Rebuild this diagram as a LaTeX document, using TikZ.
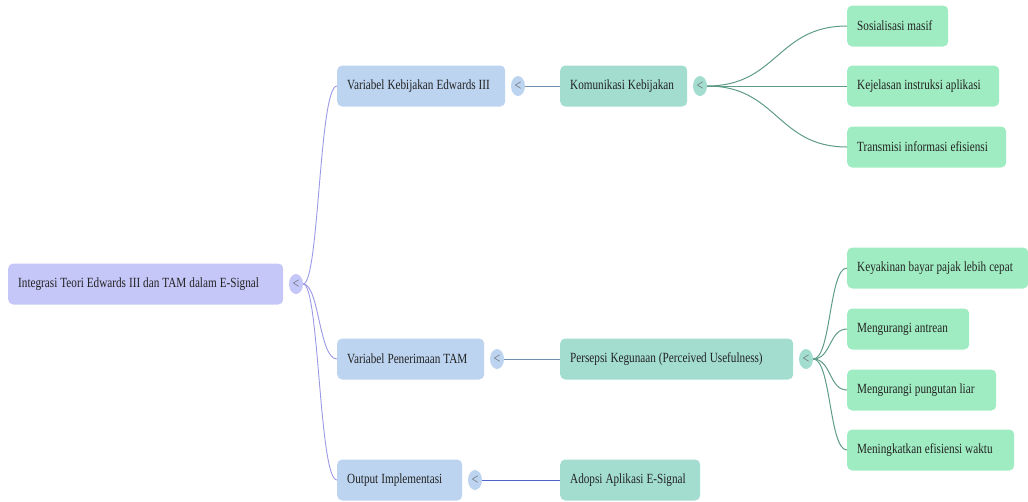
\documentclass[tikz,border=0pt]{standalone}
\usepackage{fontspec}
\setmainfont{Liberation Serif}[FakeStretch=0.8]
\usetikzlibrary{shapes.geometric}
\newcommand\tmb[1]{\mbox{\spaceskip=3pt plus 0pt minus 0pt\relax #1}}
\definecolor{rootfill}{HTML}{C4C7F8}
\definecolor{lonefill}{HTML}{BCD4F0}
\definecolor{ltwofill}{HTML}{A3DDD0}
\definecolor{lthreefill}{HTML}{A0ECC2}
\definecolor{rootedge}{HTML}{9C99E6}
\definecolor{oneedge}{HTML}{6F8FB0}
\definecolor{twoedge}{HTML}{5F9C87}
\definecolor{txt}{HTML}{222222}
\begin{document}
\begin{tikzpicture}[x=1pt,y=-1pt,
  box/.style={rounded corners=5pt, minimum height=41pt, inner xsep=10pt, inner ysep=0pt,
    anchor=west, align=left, font=\fontsize{14}{16}\selectfont, text=txt},
  rootbox/.style={box, fill=rootfill},
  onebox/.style={box, fill=lonefill},
  twobox/.style={box, fill=ltwofill},
  threebox/.style={box, fill=lthreefill},
  tog/.style={ellipse, minimum width=14pt, minimum height=20pt, inner sep=0pt,
    font=\fontsize{15}{15}\selectfont, text=black!60},
  rootline/.style={draw=rootedge, line width=0.9pt},
  oneline/.style={draw=oneedge, line width=1pt},
  twoline/.style={draw=twoedge, line width=1pt}
]
\useasboundingbox (0,0) rectangle (1028,501);

% root
\node[rootbox, text width=255pt] (root) at (8,284) {\tmb{Integrasi Teori Edwards III dan TAM dalam E-Signal}};
\node[tog, fill=rootfill] (rc) at (296,284) {<};

% level 1
\node[onebox, text width=148pt] (v1) at (337,86) {\tmb{Variabel Kebijakan Edwards III}};
\node[tog, fill=lonefill] (c1) at (518,86) {<};
\node[onebox, text width=127pt] (v2) at (337,359) {\tmb{Variabel Penerimaan TAM}};
\node[tog, fill=lonefill] (c2) at (497,359) {<};
\node[onebox, text width=105pt] (v3) at (337,480) {\tmb{Output Implementasi}};
\node[tog, fill=lonefill] (c3) at (475,480) {<};

% level 2
\node[twobox, text width=107pt] (k) at (560,86) {\tmb{Komunikasi Kebijakan}};
\node[tog, fill=ltwofill] (ck) at (700,86) {<};
\node[twobox, text width=213pt] (p) at (560,359) {\tmb{Persepsi Kegunaan (Perceived Usefulness)}};
\node[tog, fill=ltwofill] (cp) at (806,359) {<};
\node[twobox, text width=120pt] (a) at (560,480) {\tmb{Adopsi Aplikasi E-Signal}};

% level 3
\node[threebox, text width=81pt] (s1) at (847,26) {\tmb{Sosialisasi masif}};
\node[threebox, text width=132pt] (s2) at (847,86) {\tmb{Kejelasan instruksi aplikasi}};
\node[threebox, text width=139pt] (s3) at (847,147) {\tmb{Transmisi informasi efisiensi}};
\node[threebox, text width=161pt] (t1) at (847,268) {\tmb{Keyakinan bayar pajak lebih cepat}};
\node[threebox, text width=102pt] (t2) at (847,329) {\tmb{Mengurangi antrean}};
\node[threebox, text width=129pt] (t3) at (847,390) {\tmb{Mengurangi pungutan liar}};
\node[threebox, text width=147pt] (t4) at (847,450) {\tmb{Meningkatkan efisiensi waktu}};

% root connectors
\foreach \n in {v1,v2,v3}{
  \draw[rootline] (rc.east) .. controls ([xshift=16pt]rc.east) and ([xshift=-18pt]\n.west) .. (\n.west);
}
% level1 -> level2
\draw[oneline] (c1.east) -- (k.west);
\draw[oneline] (c2.east) -- (p.west);
\draw[oneline, draw=oneedge!70!blue] (c3.east) -- (a.west);
% level2 -> level3
\foreach \n in {s1,s2,s3}{
  \draw[twoline] (ck.east) .. controls ([xshift=70pt]ck.east) and ([xshift=-70pt]\n.west) .. (\n.west);
}
\foreach \n in {t1,t2,t3,t4}{
  \draw[twoline] (cp.east) .. controls ([xshift=18pt]cp.east) and ([xshift=-18pt]\n.west) .. (\n.west);
}
\end{tikzpicture}
\end{document}
